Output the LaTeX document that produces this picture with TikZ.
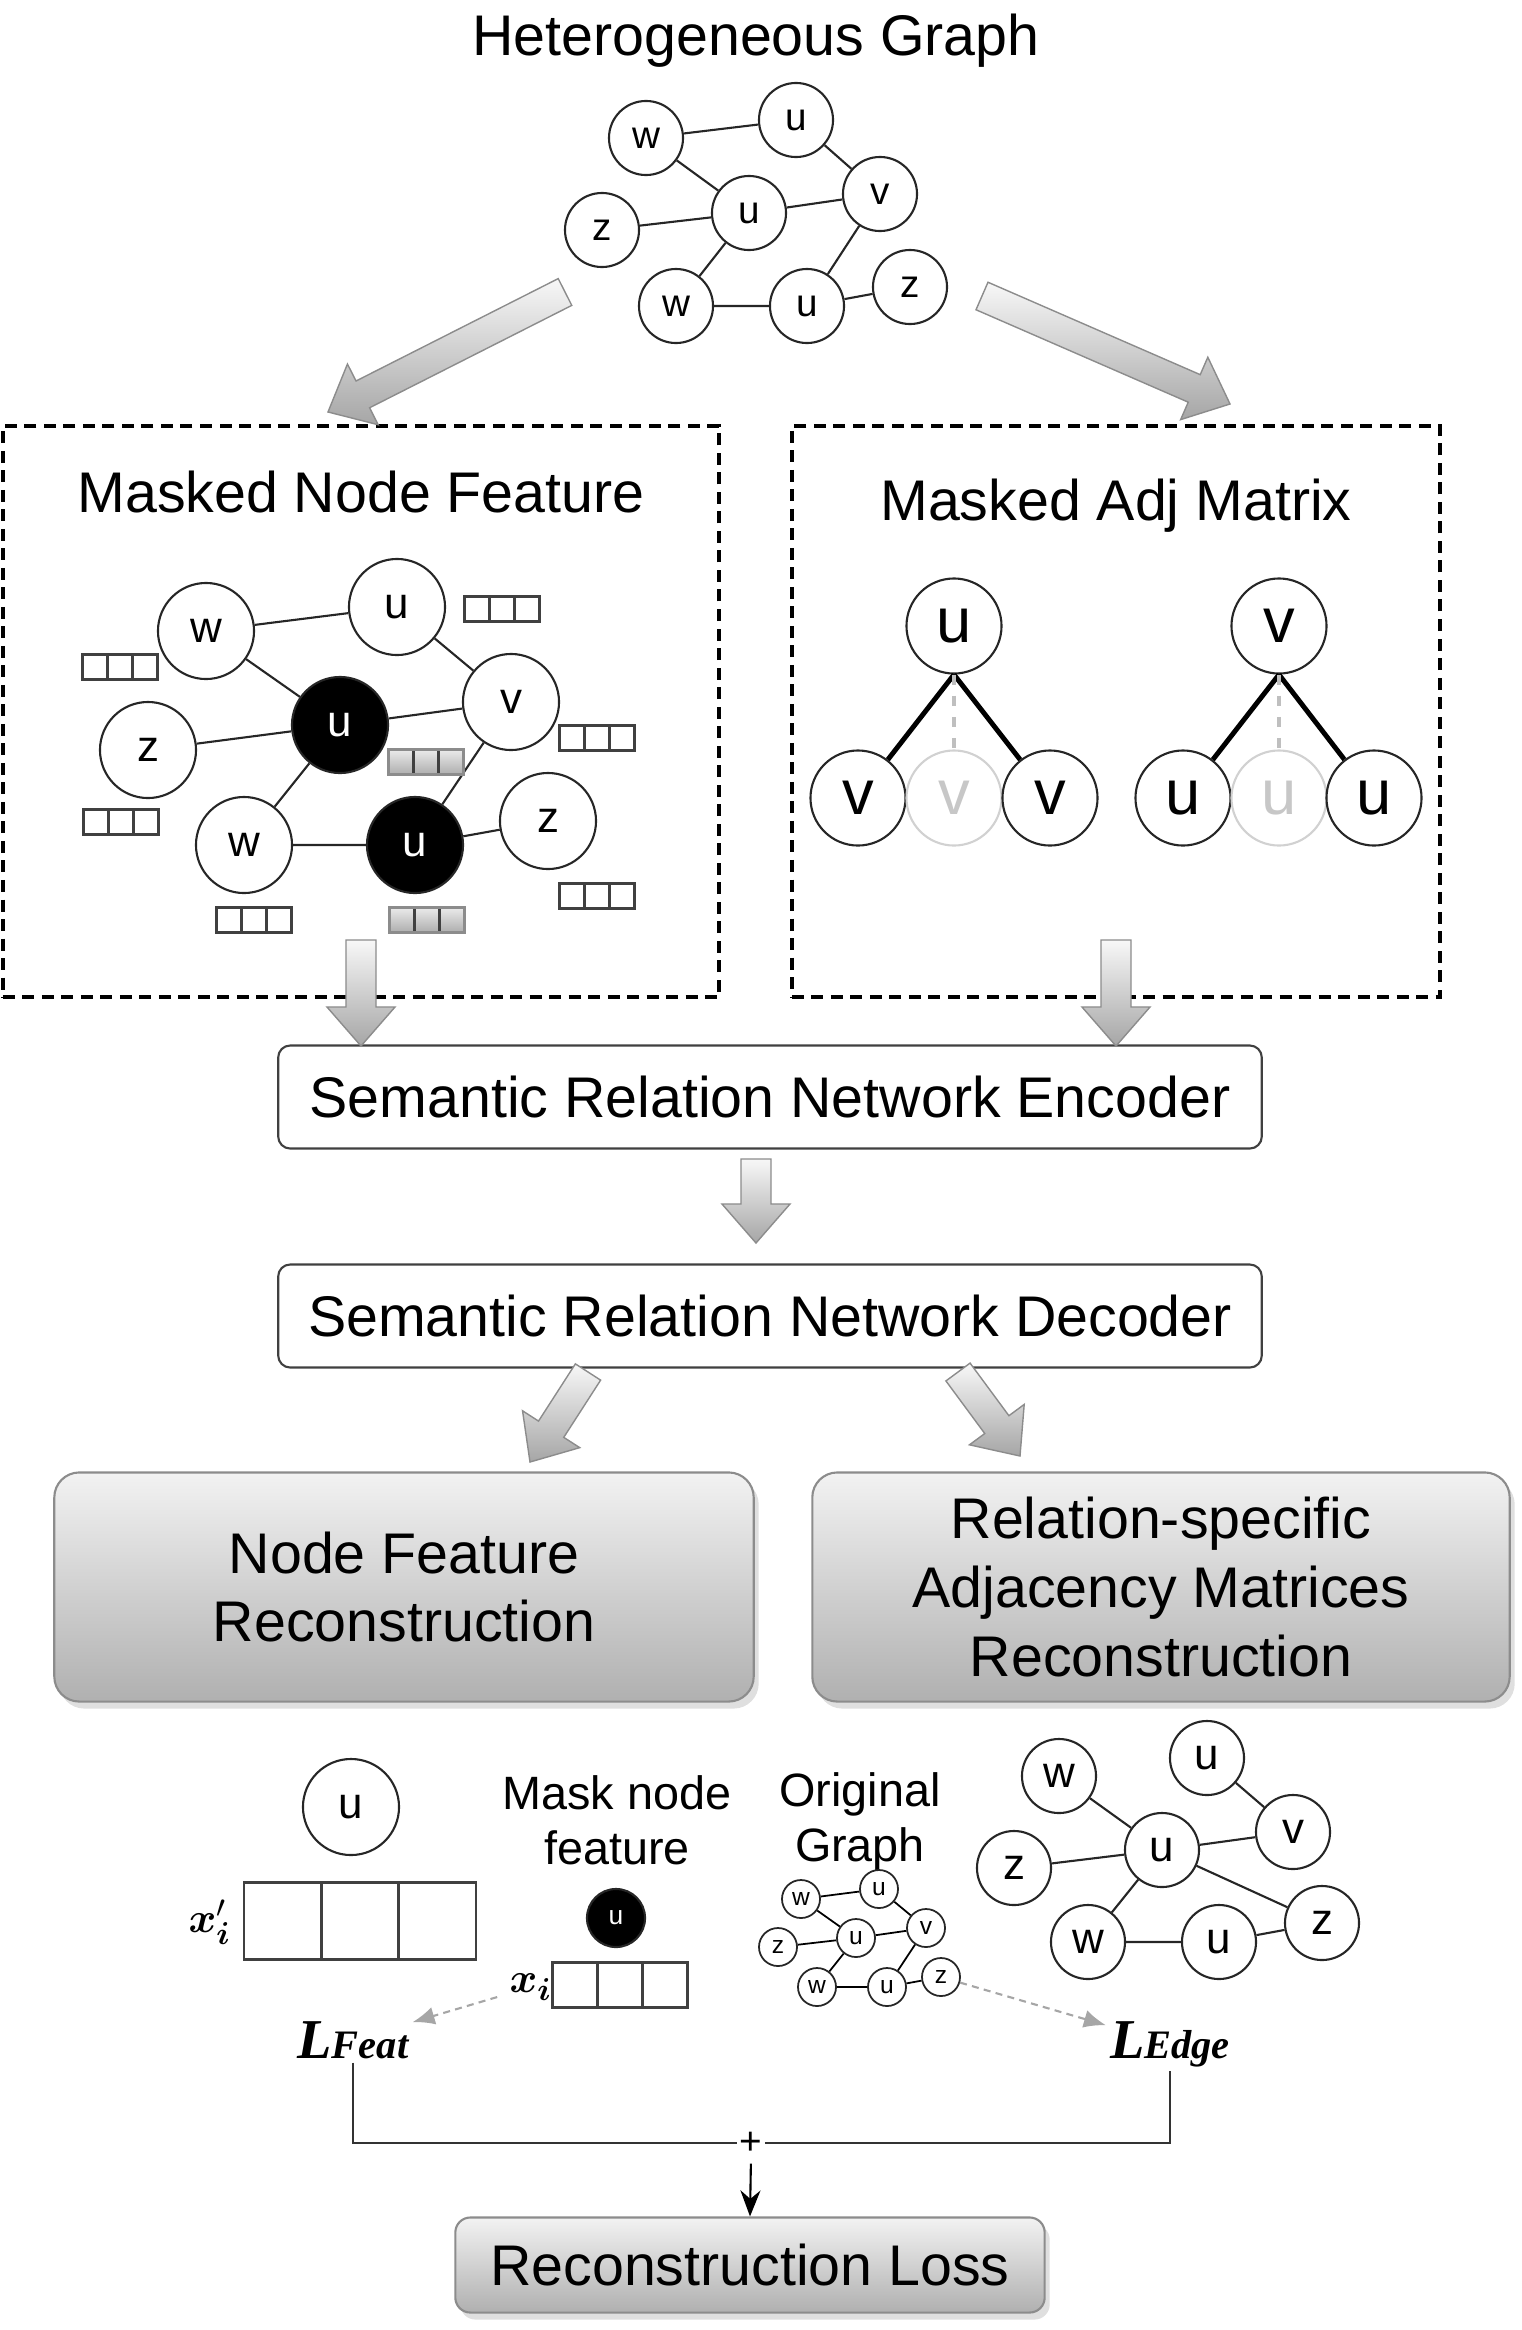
\documentclass[tikz,border=0pt]{standalone}
\usepackage{bm}
\usepackage{fontspec}
\setmainfont{Liberation Sans}
\newfontfamily\lossfont{Liberation Serif}
\usepackage{tikz}
\usetikzlibrary{calc,shadows,arrows.meta}

% block arrow from tail #1 to tip #2
\newcommand{\fatarrow}[2]{%
  \coordinate (fa) at ($(#2)!0.39cm!(#1)$);
  \path[fatarrow] ($(#1)!0.15cm!90:(#2)$) -- ($(fa)!0.15cm!-90:(#1)$)
    -- ($(fa)!0.34cm!-90:(#1)$) -- (#2) -- ($(fa)!0.34cm!90:(#1)$)
    -- ($(fa)!0.15cm!90:(#1)$) -- ($(#1)!0.15cm!-90:(#2)$) -- cycle;}
\newcommand{\lossname}[1]{{\lossfont\bfseries\itshape\fontsize{16}{18}\selectfont L\fontsize{11.5}{14}\selectfont #1}}

\tikzset{
  bigtext/.style={font=\fontsize{16.3}{19.5}\selectfont},
  midtext/.style={font=\fontsize{13.3}{15.6}\selectfont},
  vertex/.style={circle, draw=black!85, line width=0.6pt, inner sep=0pt},
  hnode/.style={vertex, minimum size=0.74cm, font=\fontsize{11}{13}\selectfont},
  mnode/.style={vertex, minimum size=0.96cm, font=\fontsize{12.5}{15}\selectfont},
  masked/.style={mnode, fill=black, text=white},
  anode/.style={vertex, minimum size=0.95cm, font=\fontsize{18}{21}\selectfont},
  ghost/.style={anode, draw=black!18, text=black!22},
  onode/.style={vertex, line width=0.5pt, minimum size=0.38cm, font=\fontsize{7}{8}\selectfont},
  gnode/.style={vertex, minimum size=0.74cm, font=\fontsize{12.5}{15}\selectfont},
  link/.style={line width=0.6pt, draw=black!85},
  cells/.style={draw=black!75, line width=0.6pt, inner sep=0pt, minimum height=#1, minimum width=3*#1,
    path picture={\draw[black!75]
      ($(path picture bounding box.north west)!0.3333!(path picture bounding box.north east)$) --
      ($(path picture bounding box.south west)!0.3333!(path picture bounding box.south east)$)
      ($(path picture bounding box.north west)!0.6667!(path picture bounding box.north east)$) --
      ($(path picture bounding box.south west)!0.6667!(path picture bounding box.south east)$);}},
  featvec/.style={cells=0.25cm},
  maskvec/.style={cells=0.25cm, draw=black!45, top color=black!8, bottom color=black!32},
  veclab/.style={font=\fontsize{13}{15}\selectfont},
  dashbox/.style={draw, line width=1.1pt, dash pattern=on 0.12cm off 0.075cm},
  fatarrow/.style={draw=black!45, line width=0.4pt, top color=black!3, bottom color=black!35},
  codebox/.style={bigtext, draw=black!75, line width=0.6pt, rounded corners=0.12cm,
    minimum width=9.83cm, minimum height=1.03cm},
  reconbox/.style={bigtext, draw=black!45, line width=0.6pt, rounded corners=0.25cm, align=center,
    top color=black!5, bottom color=black!31,
    drop shadow={opacity=0.25, shadow xshift=0.5mm, shadow yshift=-0.7mm}},
  dasharrow/.style={draw=black!35, line width=0.6pt, dash pattern=on 2pt off 1.5pt,
    -{Latex[length=2.2mm, width=1.8mm]}}
}

\begin{document}
\begin{tikzpicture}[x=0.01cm, y=-0.01cm]
\useasboundingbox (0,0) rectangle (1522,2330);

% heterogeneous graph
\node[bigtext, anchor=base] (htitle) at (756,55) {Heterogeneous Graph};
\node[hnode] (hw) at (646,138) {w};
\node[hnode] (hu1) at (796,120) {u};
\node[hnode] (hv) at (880,194) {v};
\node[hnode] (hu2) at (749,213) {u};
\node[hnode] (hz) at (602,230) {z};
\node[hnode] (hw2) at (676,306) {w};
\node[hnode] (hu3) at (807,306) {u};
\node[hnode] (hz2) at (910,287) {z};
\draw[link] (hw) -- (hu1) -- (hv) -- (hu2) -- (hw)
  (hz) -- (hu2) -- (hw2) -- (hu3) -- (hz2) (hv) -- (hu3);

% masked node feature
\node[dashbox, minimum width=7.16cm, minimum height=5.71cm] (fbox) at (361,711.5) {};
\node[bigtext, anchor=base] (ftitle) at (361,512) {Masked Node Feature};
\node[mnode] (mw) at (206,631) {w};
\node[mnode] (mu1) at (397,607) {u};
\node[mnode] (mv) at (511,702) {v};
\node[masked] (mu2) at (340,725) {u};
\node[mnode] (mz) at (148,750) {z};
\node[mnode] (mw2) at (244,845) {w};
\node[masked] (mu3) at (415,845) {u};
\node[mnode] (mz2) at (548,821) {z};
\draw[link] (mw) -- (mu1) -- (mv) -- (mu2) -- (mw)
  (mz) -- (mu2) -- (mw2) -- (mu3) -- (mz2) (mv) -- (mu3);
\node[featvec] (fu1) at (502,609) {};
\node[featvec] (fw) at (120,667) {};
\node[featvec] (fz) at (121,822) {};
\node[maskvec] (fu2) at (426,762) {};
\node[featvec] (fv) at (597,738) {};
\node[featvec] (fw2) at (254,920) {};
\node[maskvec] (fu3) at (427,920) {};
\node[featvec] (fz2) at (597,896) {};

% masked adj matrix
\node[dashbox, minimum width=6.48cm, minimum height=5.71cm] (abox) at (1116,711.5) {};
\node[bigtext, anchor=base] (atitle) at (1116,520) {Masked Adj Matrix};
\node[anode] (au) at (954,626) {u};
\node[anode] (av1) at (858,798) {v};
\node[ghost] (av2) at (954,798) {v};
\node[anode] (av3) at (1050,798) {v};
\node[anode] (bv) at (1279,626) {v};
\node[anode] (bu1) at (1183,798) {u};
\node[ghost] (bu2) at (1279,798) {u};
\node[anode] (bu3) at (1374,798) {u};
\draw[line width=1.4pt] (au.south) -- (av1) (au.south) -- (av3)
  (bv.south) -- (bu1) (bv.south) -- (bu3);
\draw[black!25, line width=1pt, dashed] (au.south) -- (av2.north) (bv.south) -- (bu2.north);

% encoder and decoder
\node[codebox] (enc) at (770,1097) {Semantic Relation Network Encoder};
\node[codebox] (dec) at (770,1316) {Semantic Relation Network Decoder};

% reconstruction
\node[reconbox, minimum width=6.99cm, minimum height=2.29cm] (nfr) at (404,1587) {Node Feature\\Reconstruction};
\node[reconbox, minimum width=6.97cm, minimum height=2.29cm] (amr) at (1161,1587) {Relation-specific\\Adjacency Matrices\\Reconstruction};

% big arrows
\coordinate (a1s) at (565,292); \coordinate (a1e) at (328,412);
\coordinate (a2s) at (982,296); \coordinate (a2e) at (1230,404);
\coordinate (a3s) at (361,940); \coordinate (a3e) at (361,1046);
\coordinate (a4s) at (1116,940); \coordinate (a4e) at (1116,1046);
\coordinate (a5s) at (756,1159); \coordinate (a5e) at (756,1243);
\coordinate (a6s) at (588,1372); \coordinate (a6e) at (530,1462);
\coordinate (a7s) at (958,1372); \coordinate (a7e) at (1020,1456);
\fatarrow{a1s}{a1e}
\fatarrow{a2s}{a2e}
\fatarrow{a3s}{a3e}
\fatarrow{a4s}{a4e}
\fatarrow{a5s}{a5e}
\fatarrow{a6s}{a6e}
\fatarrow{a7s}{a7e}

% feature loss side
\node[mnode] (recu) at (351,1807) {u};
\node[cells=0.77cm] (xpv) at (360,1921) {};
\node[veclab] (xplab) at (210,1922) {$\bm{x}'_{\bm{i}}$};
\node[midtext, align=center] (mnf) at (617,1820) {Mask node\\feature};
\node[vertex, fill=black, text=white, minimum size=0.58cm, font=\fontsize{7.5}{9}\selectfont] (mku) at (616,1918) {u};
\node[cells=0.45cm] (xv) at (620,1985) {};
\node[veclab] (xilab) at (531,1987) {$\bm{x}_{\bm{i}}$};

% original graph
\node[midtext, align=center] (ogt) at (860,1822) {Original\\Graph};
\node[onode] (ow) at (801,1899) {w};
\node[onode] (ou1) at (879,1889) {u};
\node[onode] (ov) at (926,1928) {v};
\node[onode] (ou2) at (856,1938) {u};
\node[onode] (oz) at (778,1947) {z};
\node[onode] (ow2) at (817,1987) {w};
\node[onode] (ou3) at (887,1987) {u};
\node[onode] (oz2) at (941,1977) {z};
\draw[line width=0.5pt] (ow) -- (ou1) -- (ov) -- (ou2) -- (ow)
  (oz) -- (ou2) -- (ow2) -- (ou3) -- (oz2) (ov) -- (ou3);

% reconstructed graph
\node[gnode] (gw) at (1059,1776) {w};
\node[gnode] (gu1) at (1207,1758) {u};
\node[gnode] (gv) at (1293,1832) {v};
\node[gnode] (gu2) at (1162,1850) {u};
\node[gnode] (gz) at (1014,1868) {z};
\node[gnode] (gw2) at (1088,1942) {w};
\node[gnode] (gu3) at (1219,1942) {u};
\node[gnode] (gz2) at (1322,1923) {z};
\draw[link] (gu1) -- (gv) -- (gu2) -- (gw)
  (gz) -- (gu2) -- (gw2) -- (gu3) -- (gz2) -- (gu2);

% losses
\node[anchor=base, inner sep=1pt] (lfeat) at (353,2058) {\lossname{Feat}};
\node[anchor=base, inner sep=1pt] (ledge) at (1170,2058) {\lossname{Edge}};
\draw[dasharrow] (xilab) -- (lfeat);
\draw[dasharrow] (oz2) -- (ledge);
\node[font=\fontsize{11}{13}\selectfont, inner sep=0.5pt] (plus) at (751,2143) {+};
\draw[black!80, line width=0.6pt] (lfeat.south) |- (plus.west);
\draw[black!80, line width=0.6pt] (plus.east) -| (ledge.south);
\node[bigtext, draw=black!45, line width=0.6pt, rounded corners=0.15cm, top color=black!5, bottom color=black!31,
  drop shadow={opacity=0.25, shadow xshift=0.5mm, shadow yshift=-0.7mm},
  minimum width=5.89cm, minimum height=0.95cm] (loss) at (750,2265) {Reconstruction Loss};
\draw[line width=0.6pt, -{Stealth[length=2.6mm, width=2mm]}, shorten <=2pt] (plus.south) -- (loss.north);
\end{tikzpicture}
\end{document}
